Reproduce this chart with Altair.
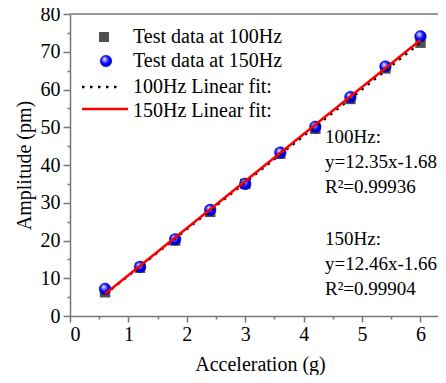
import altair as alt
import pandas as pd

# ---- data ----
accel = [0.6, 1.2, 1.8, 2.4, 3.0, 3.6, 4.2, 4.8, 5.4, 6.0]
amp_100 = [6.3, 12.8, 20.0, 27.6, 35.0, 43.0, 49.6, 57.5, 65.6, 72.4]
amp_150 = [7.2, 13.0, 20.3, 28.1, 35.0, 43.3, 50.1, 58.0, 66.1, 74.1]
fit_x = [0.6, 6.0]
fit_100 = [5.73, 72.42]
fit_150 = [5.82, 73.10]
legend_labels = ["Test data at 100Hz", "Test data at 150Hz",
                 "100Hz Linear fit:", "150Hz Linear fit:"]
annot_100 = ["100Hz:", "y=12.35x-1.68", "R\u00b2=0.99936"]
annot_150 = ["150Hz:", "y=12.46x-1.66", "R\u00b2=0.99904"]
x_ticks = [0, 0.5, 1, 1.5, 2, 2.5, 3, 3.5, 4, 4.5, 5, 5.5, 6]
y_ticks = [0, 5, 10, 15, 20, 25, 30, 35, 40, 45, 50, 55, 60, 65, 70, 75, 80]

df100 = pd.DataFrame({"x": accel, "y": amp_100})
df150 = pd.DataFrame({"x": accel, "y": amp_150})
dfit100 = pd.DataFrame({"x": fit_x, "y": fit_100})
dfit150 = pd.DataFrame({"x": fit_x, "y": fit_150})
one = pd.DataFrame({"k": [0]})

FONT = "Liberation Serif"
AX = "#777777"
W, H = 368, 302

xenc = alt.X("x:Q",
             scale=alt.Scale(domain=[0, 6.3], nice=False, zero=False),
             axis=alt.Axis(values=x_ticks,
                           labelExpr="datum.value % 1 === 0 ? format(datum.value, 'd') : ''",
                           tickSize={"condition": {"test": "datum.value % 1 === 0", "value": 6}, "value": 3},
                           labelPadding=2,
                           title="Acceleration (g)",
                           titleX=190, titleY=54, titleBaseline="alphabetic"))
yenc = alt.Y("y:Q",
             scale=alt.Scale(domain=[0, 80], nice=False),
             axis=alt.Axis(values=y_ticks,
                           labelExpr="datum.value % 10 === 0 ? format(datum.value, 'd') : ''",
                           tickSize={"condition": {"test": "datum.value % 10 === 0", "value": 7}, "value": 3},
                           labelPadding=3,
                           title="Amplitude (pm)",
                           titlePadding=6))

grad = alt.RadialGradient(
    gradient="radial",
    stops=[alt.GradientStop(offset=0, color="#ffffff"),
           alt.GradientStop(offset=0.3, color="#7070ff"),
           alt.GradientStop(offset=0.6, color="#0000ff"),
           alt.GradientStop(offset=1, color="#0000c0")],
    x1=0.38, y1=0.32, r1=0, x2=0.45, y2=0.45, r2=0.6)

squares = alt.Chart(df100).mark_square(size=110, color="#505050", opacity=1).encode(x=xenc, y=yenc)
circles = alt.Chart(df150).mark_circle(size=135, opacity=1, fill=grad,
                                        stroke="#0000b0", strokeWidth=0.5).encode(x=xenc, y=yenc)
fit_dot = alt.Chart(dfit100).mark_line(color="black", strokeDash=[2.5, 5.5], strokeWidth=2.5).encode(x=xenc, y=yenc)
fit_red = alt.Chart(dfit150).mark_line(color="#ff0000", strokeWidth=2.5).encode(x=xenc, y=yenc)

top_border = alt.Chart(one).mark_rule(color=AX, strokeWidth=1.5).encode(
    x=alt.value(0), x2=alt.value(W), y=alt.value(0))

# legend (inside plot, top-left)
leg_sq = alt.Chart(one).mark_square(size=100, color="#505050", opacity=1).encode(
    x=alt.value(34), y=alt.value(23))
leg_ci = alt.Chart(one).mark_circle(size=135, opacity=1, fill=grad, stroke="#0000b0",
                                     strokeWidth=0.5).encode(x=alt.value(36), y=alt.value(47))
leg_dot = alt.Chart(one).mark_rule(color="black", strokeDash=[2.5, 5.5], strokeWidth=2.5).encode(
    x=alt.value(12), x2=alt.value(52), y=alt.value(73))
leg_red = alt.Chart(one).mark_rule(color="#ff0000", strokeWidth=2.5).encode(
    x=alt.value(12), x2=alt.value(58), y=alt.value(95))

def txt(label, px, py, size):
    return alt.Chart(one).mark_text(align="left", baseline="alphabetic", font=FONT,
                                    fontSize=size, color="black").encode(
        x=alt.value(px), y=alt.value(py), text=alt.value(label))

leg_texts = [txt(l, 63, b, 20) for l, b in zip(legend_labels, [29, 53, 79, 103])]
ann_texts = [txt(l, 255, b, 19) for l, b in zip(annot_100, [129, 154, 179])] + \
            [txt(l, 255, b, 19) for l, b in zip(annot_150, [231, 256, 281])]

chart = alt.layer(
    squares, circles, fit_dot, fit_red, top_border,
    leg_sq, leg_ci, leg_dot, leg_red, *leg_texts, *ann_texts
).properties(
    width=W, height=H,
    autosize=alt.AutoSizeParams(type="none"),
    padding={"left": 62, "top": 6, "right": 0, "bottom": 59},
).configure_view(stroke=None).configure_axis(
    grid=False, domainColor=AX, tickColor=AX, domainWidth=1.5, tickWidth=1.5,
    labelFont=FONT, labelFontSize=20, labelColor="black",
    titleFont=FONT, titleFontSize=20, titleFontWeight="normal", titleColor="black",
)

chart.save("out.html", embed_options={"renderer": "svg", "actions": False})
